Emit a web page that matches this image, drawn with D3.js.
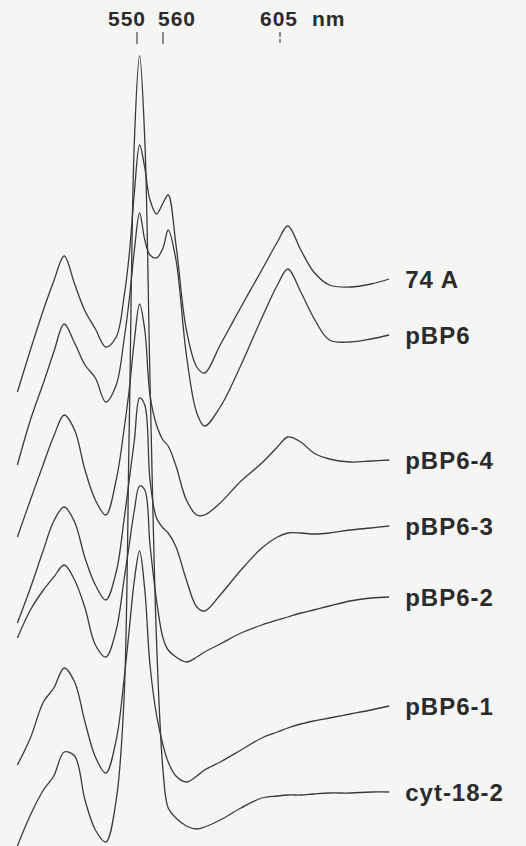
<!DOCTYPE html>
<html>
<head>
<meta charset="utf-8">
<script src="https://cdn.jsdelivr.net/npm/d3@7"></script>
<style>
  html, body { margin: 0; padding: 0; background: #f5f5f4; }
  svg { display: block; }
  .label { font-family: "Liberation Sans", Arial, sans-serif; font-weight: bold; fill: #2b2b2b; }
</style>
</head>
<body>
<svg id="chart" width="526" height="846"></svg>
<script>
// wavelength grid (nm) shared by all traces
const wavelengths = [504, 509, 514, 518, 522, 526, 530, 534, 538, 542, 545, 547, 549, 551, 553, 555, 557.5,
  560, 562, 565, 569, 573, 576, 582, 590, 598, 604, 608, 613, 618, 624, 632, 640, 647];

// offset absorbance, arbitrary units
const a74A = [454, 496, 536, 565, 590, 562, 535, 517, 499, 509, 549, 591, 654, 701, 678, 646, 632,
  643, 651, 601, 516, 479, 473, 501, 539, 576, 604, 620, 596, 574, 561, 559, 562, 567];
const pBP6 = [381, 426, 463, 494, 522, 503, 481, 468, 444, 461, 506, 546, 596, 633, 606, 591, 588,
  598, 616, 586, 491, 433, 420, 439, 481, 528, 561, 577, 554, 528, 506, 504, 507, 511];
const pBP6_4 = [309, 346, 382, 410, 431, 416, 376, 346, 331, 366, 416, 456, 506, 542, 516, 451, 421,
  406, 400, 380, 346, 331, 331, 343, 365, 383, 399, 409, 404, 393, 387, 384, 385, 386];
const pBP6_3 = [223, 258, 296, 325, 339, 324, 288, 261, 246, 274, 326, 366, 406, 448, 441, 366, 328,
  318, 313, 299, 266, 239, 235, 251, 276, 298, 309, 313, 313, 312, 313, 316, 318, 320];
const pBP6_2 = [208, 236, 256, 269, 281, 266, 238, 201, 189, 216, 266, 301, 336, 360, 356, 301, 246,
  208, 196, 189, 184, 189, 194, 202, 213, 221, 226, 229, 233, 236, 240, 245, 248, 249];
const pBP6_1 = [81, 108, 144, 158, 178, 164, 124, 89, 73, 106, 166, 216, 266, 295, 256, 181, 131,
  101, 84, 70, 64, 70, 76, 84, 96, 108, 114, 118, 122, 125, 128, 132, 136, 140];
const cyt18_2 = [0, 31, 56, 70, 94, 90, 46, 16, 4, 46, 146, 416, 706, 790, 706, 466, 206,
  76, 38, 28, 20, 17, 19, 26, 38, 48, 50, 51, 51, 52, 53, 53, 54, 54];

const traceNames = ["74 A", "pBP6", "pBP6-4", "pBP6-3", "pBP6-2", "pBP6-1", "cyt-18-2"];
const traceValues = [a74A, pBP6, pBP6_4, pBP6_3, pBP6_2, pBP6_1, cyt18_2];

// marked band positions along the top
const markWavelengths = [550, 560, 605];
const markLabels = ["550", "560", "605"];
const unitLabel = "nm";

const svg = d3.select("#chart");

const xScale = d3.scaleLinear().domain([550, 605]).range([137, 280]);
const yScale = d3.scaleLinear().domain([0, 800]).range([846, 46]);

const line = d3.line()
  .x((d) => xScale(d[0]))
  .y((d) => yScale(d[1]))
  .curve(d3.curveCatmullRom.alpha(0.5));

const traces = traceNames.map((name, i) => ({
  name: name,
  points: wavelengths.map((w, j) => [w, traceValues[i][j]]),
}));

// spectra
svg.append("g")
  .selectAll("path")
  .data(traces)
  .enter()
  .append("path")
  .attr("d", (t) => line(t.points))
  .attr("fill", "none")
  .attr("stroke", "#3a3a3a")
  .attr("stroke-width", 1.3)
  .attr("stroke-linejoin", "round");

// trace names at the right end of each spectrum
svg.append("g")
  .selectAll("text")
  .data(traces)
  .enter()
  .append("text")
  .attr("class", "label")
  .attr("x", xScale(wavelengths[wavelengths.length - 1]) + 16)
  .attr("y", (t) => yScale(t.points[t.points.length - 1][1]))
  .attr("dy", "0.36em")
  .attr("font-size", 24)
  .attr("letter-spacing", 1)
  .text((t) => t.name);

// top marks
const marks = svg.append("g");
marks.selectAll("line")
  .data(markWavelengths)
  .enter()
  .append("line")
  .attr("x1", (w) => xScale(w))
  .attr("x2", (w) => xScale(w))
  .attr("y1", 32)
  .attr("y2", 44)
  .attr("stroke", "#444")
  .attr("stroke-width", 1.2)
  .style("stroke-dasharray", (w, i) => (i === 2 ? "5,2,4" : null));

const labelShift = [-10, 14, -1];
marks.selectAll("text")
  .data(markLabels)
  .enter()
  .append("text")
  .attr("class", "label")
  .attr("x", (d, i) => xScale(markWavelengths[i]) + labelShift[i])
  .attr("y", 26)
  .attr("text-anchor", "middle")
  .attr("font-size", 21)
  .attr("letter-spacing", 1)
  .text((d) => d);

marks.append("text")
  .attr("class", "label")
  .attr("x", xScale(605) + 32)
  .attr("y", 26)
  .attr("font-size", 21)
  .attr("letter-spacing", 1)
  .text(unitLabel);
</script>
</body>
</html>
